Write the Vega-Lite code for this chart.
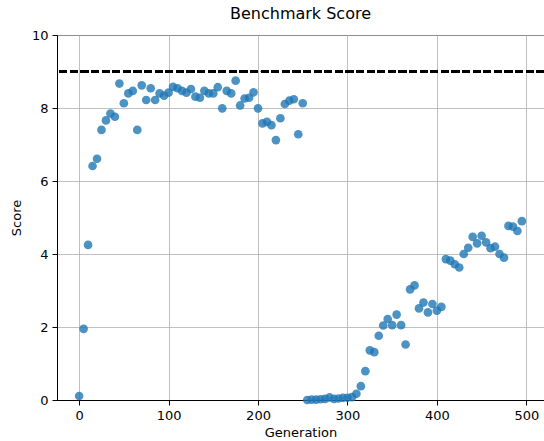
{
  "$schema": "https://vega.github.io/schema/vega-lite/v6.json",
  "width": 487,
  "height": 365,
  "autosize": {"type": "none"},
  "padding": {"left": 57, "top": 35, "right": 0, "bottom": 41},
  "background": "white",
  "title": {
    "text": "Benchmark Score",
    "font": "DejaVu Sans",
    "fontSize": 16,
    "fontWeight": "normal",
    "color": "#000000",
    "offset": 7,
    "anchor": "middle"
  },
  "config": {
    "font": "DejaVu Sans",
    "view": {"stroke": "#000000", "strokeWidth": 1},
    "axis": {
      "labelFont": "DejaVu Sans",
      "labelFontSize": 13,
      "labelColor": "#000000",
      "titleFont": "DejaVu Sans",
      "titleFontSize": 13,
      "titleFontWeight": "normal",
      "titleColor": "#000000",
      "domainColor": "#000000",
      "tickColor": "#000000",
      "tickSize": 5,
      "labelPadding": 4,
      "gridColor": "#b0b0b0",
      "gridOpacity": 0.8,
      "gridWidth": 1
    }
  },
  "data": {
    "values": [
      {"generation": 0, "score": 0.11}, {"generation": 5, "score": 1.95}, {"generation": 10, "score": 4.25},
      {"generation": 15, "score": 6.41}, {"generation": 20, "score": 6.61}, {"generation": 25, "score": 7.40},
      {"generation": 30, "score": 7.66}, {"generation": 35, "score": 7.85}, {"generation": 40, "score": 7.76},
      {"generation": 45, "score": 8.67}, {"generation": 50, "score": 8.13}, {"generation": 55, "score": 8.40},
      {"generation": 60, "score": 8.47}, {"generation": 65, "score": 7.40}, {"generation": 70, "score": 8.62},
      {"generation": 75, "score": 8.22}, {"generation": 80, "score": 8.54}, {"generation": 85, "score": 8.22},
      {"generation": 90, "score": 8.40}, {"generation": 95, "score": 8.34}, {"generation": 100, "score": 8.42},
      {"generation": 105, "score": 8.58}, {"generation": 110, "score": 8.54}, {"generation": 115, "score": 8.47},
      {"generation": 120, "score": 8.42}, {"generation": 125, "score": 8.52}, {"generation": 130, "score": 8.31},
      {"generation": 135, "score": 8.28}, {"generation": 140, "score": 8.47}, {"generation": 145, "score": 8.40},
      {"generation": 150, "score": 8.40}, {"generation": 155, "score": 8.57}, {"generation": 160, "score": 7.99},
      {"generation": 165, "score": 8.47}, {"generation": 170, "score": 8.40}, {"generation": 175, "score": 8.75},
      {"generation": 180, "score": 8.07}, {"generation": 185, "score": 8.26}, {"generation": 190, "score": 8.28},
      {"generation": 195, "score": 8.43}, {"generation": 200, "score": 7.99}, {"generation": 205, "score": 7.58},
      {"generation": 210, "score": 7.62}, {"generation": 215, "score": 7.53}, {"generation": 220, "score": 7.12},
      {"generation": 225, "score": 7.72}, {"generation": 230, "score": 8.11}, {"generation": 235, "score": 8.20},
      {"generation": 240, "score": 8.24}, {"generation": 245, "score": 7.28}, {"generation": 250, "score": 8.13},
      {"generation": 255, "score": 0.0}, {"generation": 260, "score": 0.01}, {"generation": 265, "score": 0.01},
      {"generation": 270, "score": 0.02}, {"generation": 275, "score": 0.03}, {"generation": 280, "score": 0.07},
      {"generation": 285, "score": 0.03}, {"generation": 290, "score": 0.04}, {"generation": 295, "score": 0.06},
      {"generation": 300, "score": 0.06}, {"generation": 305, "score": 0.08}, {"generation": 310, "score": 0.17},
      {"generation": 315, "score": 0.38}, {"generation": 320, "score": 0.79}, {"generation": 325, "score": 1.36},
      {"generation": 330, "score": 1.31}, {"generation": 335, "score": 1.76}, {"generation": 340, "score": 2.04},
      {"generation": 345, "score": 2.22}, {"generation": 350, "score": 2.05}, {"generation": 355, "score": 2.34},
      {"generation": 360, "score": 2.05}, {"generation": 365, "score": 1.52}, {"generation": 370, "score": 3.03},
      {"generation": 375, "score": 3.14}, {"generation": 380, "score": 2.51}, {"generation": 385, "score": 2.67},
      {"generation": 390, "score": 2.40}, {"generation": 395, "score": 2.63}, {"generation": 400, "score": 2.45},
      {"generation": 405, "score": 2.55}, {"generation": 410, "score": 3.86}, {"generation": 415, "score": 3.82},
      {"generation": 420, "score": 3.72}, {"generation": 425, "score": 3.63}, {"generation": 430, "score": 4.00},
      {"generation": 435, "score": 4.17}, {"generation": 440, "score": 4.47}, {"generation": 445, "score": 4.29},
      {"generation": 450, "score": 4.50}, {"generation": 455, "score": 4.32}, {"generation": 460, "score": 4.16},
      {"generation": 465, "score": 4.20}, {"generation": 470, "score": 4.00}, {"generation": 475, "score": 3.90},
      {"generation": 480, "score": 4.77}, {"generation": 485, "score": 4.75}, {"generation": 490, "score": 4.63},
      {"generation": 495, "score": 4.90}
    ]
  },
  "layer": [
    {
      "mark": {"type": "point", "filled": true, "shape": "circle", "size": 75, "color": "#1f77b4", "opacity": 0.8, "clip": false},
      "encoding": {
        "x": {
          "field": "generation",
          "type": "quantitative",
          "title": "Generation",
          "scale": {"domain": [-24.75, 519.75], "nice": false, "zero": false},
          "axis": {"values": [0, 100, 200, 300, 400, 500], "format": "d", "titlePadding": 4}
        },
        "y": {
          "field": "score",
          "type": "quantitative",
          "title": "Score",
          "scale": {"domain": [0, 10], "nice": false},
          "axis": {"values": [0, 2, 4, 6, 8, 10], "format": "d", "titlePadding": 8}
        }
      }
    },
    {
      "mark": {"type": "rule", "color": "#000000", "strokeWidth": 2, "strokeDash": [7.4, 3.2]},
      "encoding": {"y": {"datum": 9, "type": "quantitative"}}
    }
  ]
}
